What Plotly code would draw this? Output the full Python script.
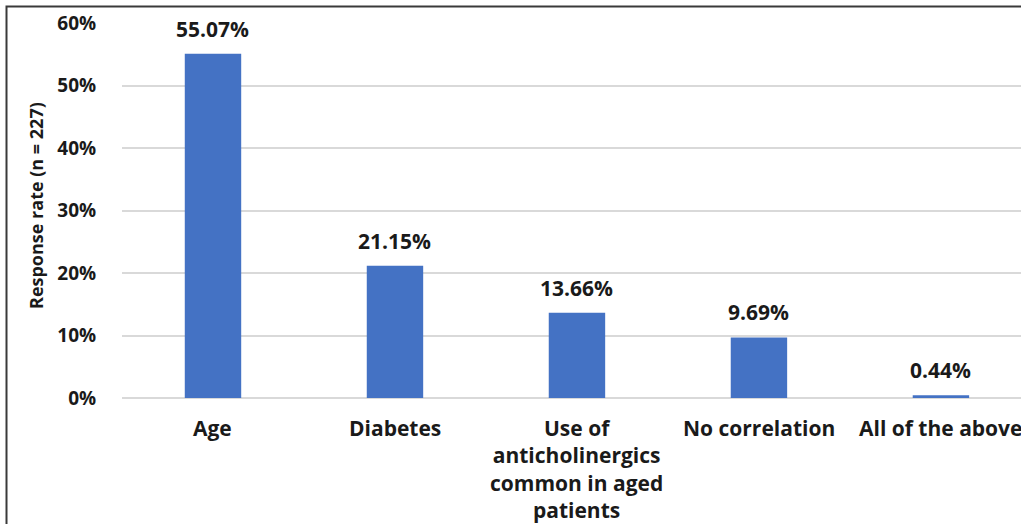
import plotly.graph_objects as go

categories = ["Age", "Diabetes", "Use of<br>anticholinergics<br>common in aged<br>patients",
              "No correlation", "All of the above"]
response_rate = [55.07, 21.15, 13.66, 9.69, 0.44]
y_ticks = [0, 10, 20, 30, 40, 50, 60]
y_tick_labels = [f"{t}%" for t in y_ticks]

FONT = "Open Sans"
BAR = "#4472C4"
GRID = "#D9D9D9"
TEXT = "#1A1A1A"

positions = list(range(len(categories)))

fig = go.Figure(go.Bar(
    x=positions,
    y=response_rate,
    width=0.31,
    marker=dict(color=BAR, line=dict(width=0)),
    hoverinfo="skip",
))

# value labels sitting above each bar
value_labels = [dict(
    x=p, y=v, xref="x", yref="y",
    text=f"{v:.2f}%",
    showarrow=False,
    xanchor="center", yanchor="middle",
    yshift=25,
    font=dict(family=FONT, size=21, color=TEXT, weight="bold"),
) for p, v in zip(positions, response_rate)]

# category names under the axis; drawn as annotations so the last one
# runs off the right edge instead of being dropped
category_labels = [dict(
    x=p, y=0, xref="x", yref="paper",
    text=c,
    showarrow=False,
    xanchor="center", yanchor="top",
    yshift=-14,
    align="center",
    font=dict(family=FONT, size=21, color=TEXT, weight="bold"),
) for p, c in zip(positions, categories)]

fig.update_layout(
    width=1021, height=524,
    margin=dict(l=122, r=0, t=23, b=126),
    paper_bgcolor="white", plot_bgcolor="white",
    showlegend=False,
    xaxis=dict(
        range=[-0.5, 4.44],
        tickmode="array",
        tickvals=positions,
        showticklabels=False,
        showgrid=False, zeroline=False, showline=False,
    ),
    yaxis=dict(
        range=[0, 60],
        tickmode="array",
        tickvals=y_ticks,
        ticktext=y_tick_labels,
        ticks="outside", ticklen=21, tickcolor="rgba(0,0,0,0)",
        tickfont=dict(family=FONT, size=19, color=TEXT, weight="bold"),
        showgrid=True, gridcolor=GRID, gridwidth=1.5,
        zeroline=True, zerolinecolor=GRID, zerolinewidth=1.5,
        showline=False,
    ),
    annotations=value_labels + category_labels + [dict(
        text="Response rate (n = 227)",
        textangle=-90,
        xref="paper", yref="paper",
        x=(36 - 122) / 899, y=(398 - 206) / 375,
        xanchor="center", yanchor="middle",
        showarrow=False,
        font=dict(family=FONT, size=18, color=TEXT, weight="bold"),
    )],
    shapes=[dict(
        type="rect", xref="paper", yref="paper",
        x0=(6.5 - 122) / 899, x1=1.2,
        y0=-1.0, y1=1 + (23 - 6.5) / 375,
        line=dict(color="#3A3A3A", width=2),
        fillcolor="rgba(0,0,0,0)",
        layer="above",
    )],
)

fig.write_html("out.html")
